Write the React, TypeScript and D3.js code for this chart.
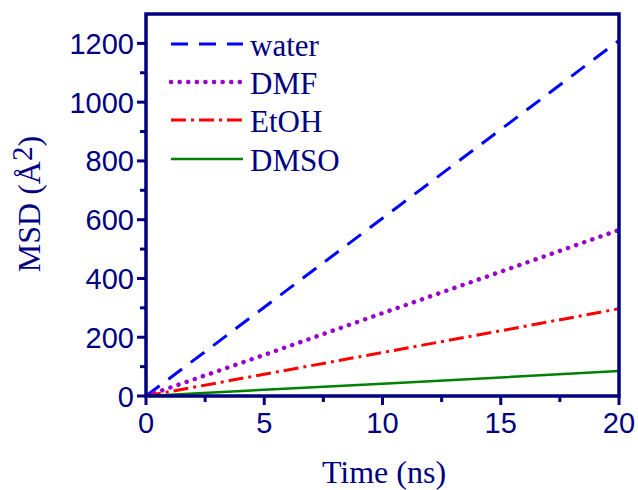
import React from "react";
import * as d3 from "d3";

const times = [0, 5, 10, 15, 20];
const water = [0, 302, 605, 907, 1210];
const dmf = [0, 140, 282, 423, 565];
const etoh = [0, 74, 148, 222, 297];
const dmso = [0, 21, 42, 63, 85];
const xTicks = [0, 5, 10, 15, 20];
const yTicks = [0, 200, 400, 600, 800, 1000, 1200];
const seriesNames = ["water", "DMF", "EtOH", "DMSO"];

const NAVY = "#000080";
const SERIF = "'Liberation Serif', 'Times New Roman', serif";
const SANS = "'Liberation Sans', Arial, sans-serif";

export default function App() {
  const W = 638, H = 490;
  const m = { l: 146, r: 19, t: 14, b: 94 };
  const x = d3.scaleLinear().domain([0, 20]).range([m.l, W - m.r]);
  const y = d3.scaleLinear().domain([0, 1300]).range([H - m.b, m.t]);
  const line = d3.line<number>().x((_, i) => x(times[i])).y((d) => y(d));

  const styles = [
    { color: "#0000ff", dash: "17,11", cap: "butt", w: 3 },
    { color: "#9a00cc", dash: "0.1,8.5", cap: "round", w: 4.5 },
    { color: "#ff0000", dash: "15,5,3,5", cap: "butt", w: 3 },
    { color: "#008000", dash: "none", cap: "butt", w: 2.5 },
  ];
  const data = [water, dmf, etoh, dmso];
  const minorX = d3.range(2.5, 20, 5);
  const minorY = d3.range(100, 1300, 200);
  const legendY = [44, 82, 120, 159];

  return (
    <svg width={W} height={H} style={{ position: "absolute", left: 0, top: 0 }}>
      <rect width={W} height={H} fill="white" />
      <defs>
        <clipPath id="clip">
          <rect x={m.l} y={m.t} width={W - m.l - m.r} height={H - m.t - m.b} />
        </clipPath>
      </defs>
      <g clipPath="url(#clip)">
        {data.map((d, i) => (
          <path key={i} d={line(d) || ""} fill="none" stroke={styles[i].color}
            strokeWidth={styles[i].w} strokeDasharray={styles[i].dash}
            strokeLinecap={styles[i].cap as any} />
        ))}
      </g>
      <rect x={m.l} y={m.t} width={W - m.l - m.r} height={H - m.t - m.b}
        fill="none" stroke={NAVY} strokeWidth={3.5} />
      {xTicks.map((t) => (
        <g key={"x" + t}>
          <line x1={x(t)} x2={x(t)} y1={y(0)} y2={y(0) + 9} stroke={NAVY} strokeWidth={3} />
          <text x={x(t)} y={y(0) + 37} textAnchor="middle" style={{ fontFamily: SANS }}
            fontSize={29} fill={NAVY}>{t}</text>
        </g>
      ))}
      {minorX.map((t) => (
        <line key={"mx" + t} x1={x(t)} x2={x(t)} y1={y(0)} y2={y(0) + 6} stroke={NAVY} strokeWidth={3} />
      ))}
      {yTicks.map((t) => (
        <g key={"y" + t}>
          <line x1={x(0) - 9} x2={x(0)} y1={y(t)} y2={y(t)} stroke={NAVY} strokeWidth={3} />
          <text x={x(0) - 12} y={y(t) + 10.5} textAnchor="end" style={{ fontFamily: SANS }}
            fontSize={29} fill={NAVY}>{t}</text>
        </g>
      ))}
      {minorY.map((t) => (
        <line key={"my" + t} x1={x(0) - 6} x2={x(0)} y1={y(t)} y2={y(t)} stroke={NAVY} strokeWidth={3} />
      ))}
      <text x={384} y={483} textAnchor="middle" style={{ fontFamily: SERIF }}
        fontSize={32} fill={NAVY}>Time (ns)</text>
      <text transform={`translate(40,204) rotate(-90)`} textAnchor="middle"
        style={{ fontFamily: SERIF }} fontSize={32} fill={NAVY}>
        MSD (Å<tspan dy={-8} fontSize={29}>2</tspan><tspan dy={8}>)</tspan>
      </text>
      {seriesNames.map((n, i) => (
        <g key={n}>
          <line x1={171} x2={243} y1={legendY[i]} y2={legendY[i]} stroke={styles[i].color}
            strokeWidth={styles[i].w} strokeDasharray={styles[i].dash}
            strokeLinecap={styles[i].cap as any} />
          <text x={250} y={legendY[i] + 12} style={{ fontFamily: SERIF }}
            fontSize={31} fill={NAVY}>{n}</text>
        </g>
      ))}
    </svg>
  );
}
